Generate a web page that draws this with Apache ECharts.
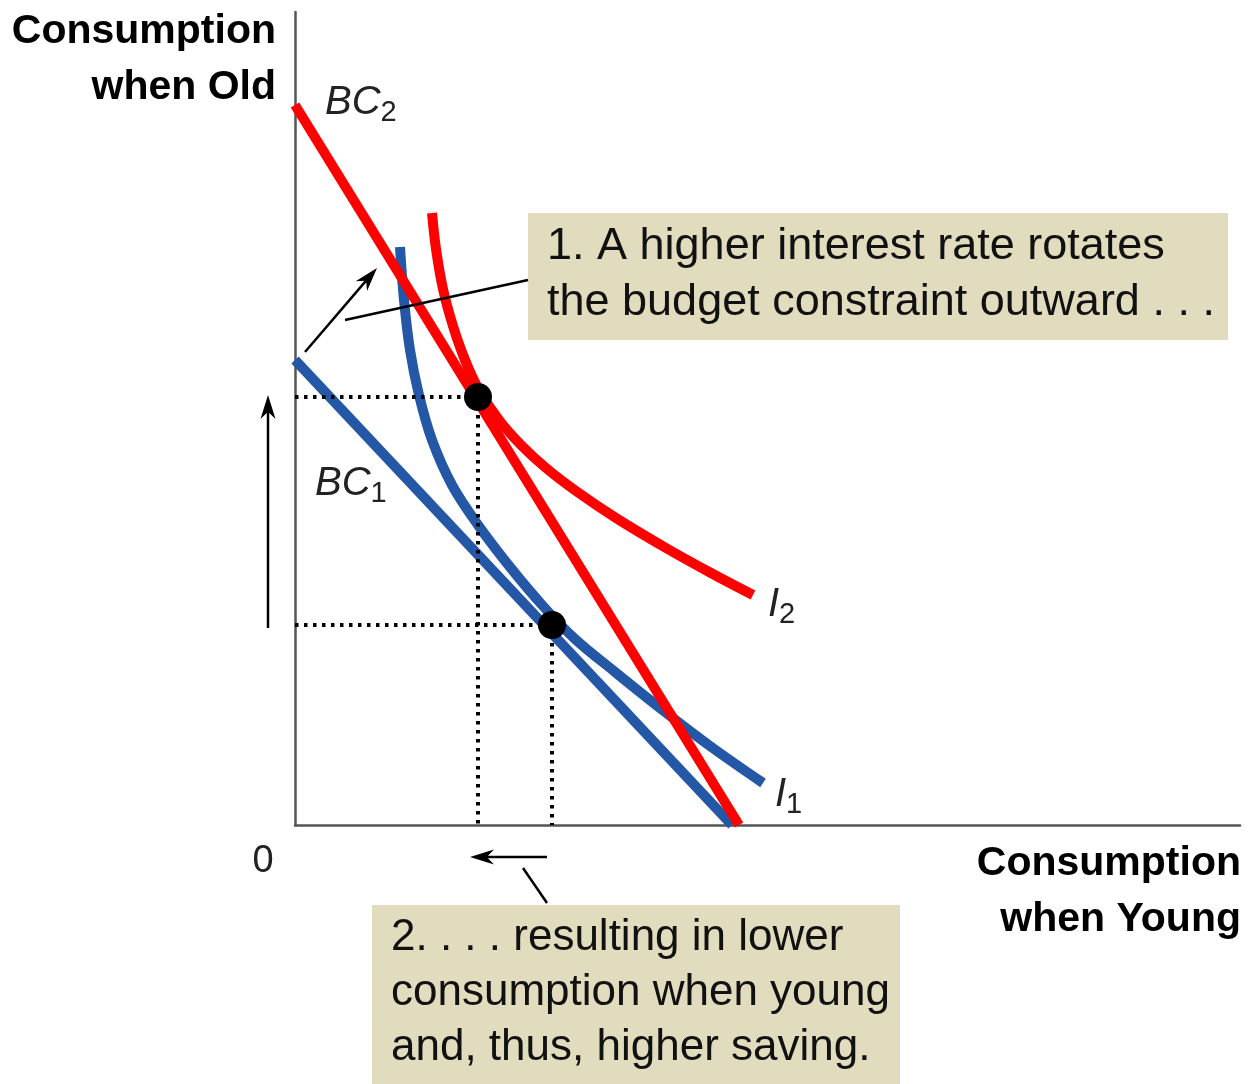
<!DOCTYPE html>
<html>
<head>
<meta charset="utf-8">
<title>Higher interest rate and saving</title>
<script src="https://cdn.jsdelivr.net/npm/echarts@6/dist/echarts.min.js"></script>
<style>
  html, body { margin: 0; padding: 0; background: #fff; }
  #main { width: 1249px; height: 1084px; }
</style>
</head>
<body>
<div id="main"></div>
<script>
// axis units: consumption when young (x) / when old (y), origin at the corner
var xMax = 94.5;
var yMax = 81.3;

var bc1 = [[0, 46.5], [43.7, 0]];
var bc2 = [[0, 72.0], [44.4, 0]];
var i1 = [[10.5, 57.8], [10.9, 52.5], [11.5, 47.5], [12.4, 43.0], [13.7, 38.5], [15.7, 34.0],
          [18.3, 30.0], [21.5, 25.8], [24.8, 21.9], [28.0, 18.6], [32.0, 15.3], [36.5, 11.7],
          [41.5, 7.9], [46.8, 4.2]];
var i2 = [[13.7, 61.2], [14.1, 57.6], [14.8, 53.6], [15.8, 49.9], [17.0, 46.5], [18.4, 43.5],
          [20.4, 40.5], [22.6, 38.0], [25.1, 35.7], [28.1, 33.4], [32.1, 30.7], [37.1, 27.7],
          [41.6, 25.2], [45.8, 23.0]];
var optimum = [[18.3, 42.8], [25.7, 20.0]];  // after, before the rate rise

var curveLabels = [
  { text: '{i|BC}{s|2}', at: [3.0, 72.2] },
  { text: '{i|BC}{s|1}', at: [2.0, 34.1] },
  { text: '{i|I}{s|2}', at: [47.3, 22.0] },
  { text: '{i|I}{s|1}', at: [48.0, 3.0] }
];

var arrows = [
  { from: [-2.7, 19.7], to: [-2.7, 43.0], head: true },
  { from: [1.0, 47.3], to: [8.2, 55.7], head: true },
  { from: [5.0, 50.5], to: [23.3, 54.5], head: false },
  { from: [25.2, -3.2], to: [17.5, -3.2], head: true },
  { from: [22.8, -4.3], to: [25.2, -7.8], head: false }
];

var note1 = ['1. A higher interest rate rotates', 'the budget constraint outward . . .'];
var note2 = ['2. . . . resulting in lower', 'consumption when young', 'and, thus, higher saving.'];

var RED = '#ff0000';
var BLUE = '#2457a6';
var BOX = '#e2dcbf';
var FONT = '"Liberation Sans", Arial, sans-serif';

var chartDom = document.getElementById('main');
var myChart = echarts.init(chartDom);

function curve(name, data, color, smooth) {
  return {
    name: name,
    type: 'line',
    data: data,
    showSymbol: false,
    smooth: smooth ? 0.35 : false,
    clip: false,
    z: 2,
    lineStyle: { color: color, width: 10, cap: 'butt' },
    silent: true
  };
}

var guides = [];
optimum.forEach(function (p) {
  guides.push([[0, p[1]], [p[0], p[1]]]);
  guides.push([[p[0], p[1]], [p[0], 0]]);
});

var series = [
  curve('BC1', bc1, BLUE, false),
  curve('I1', i1, BLUE, true),
  curve('BC2', bc2, RED, false),
  curve('I2', i2, RED, true)
];
guides.forEach(function (g, k) {
  series.push({
    name: 'guide' + k,
    type: 'line',
    data: g,
    showSymbol: false,
    silent: true,
    z: 3,
    lineStyle: { color: '#000', width: 4, type: [3.5, 5.5], cap: 'butt' }
  });
});
series.push({
  name: 'optimum',
  type: 'scatter',
  data: optimum,
  symbolSize: 28,
  z: 5,
  itemStyle: { color: '#000', opacity: 1 },
  silent: true
});

var option = {
  animation: false,
  backgroundColor: '#fff',
  grid: { left: 295, top: 12, right: 9, bottom: 259 },
  xAxis: {
    type: 'value', min: 0, max: xMax,
    axisLine: { show: true, onZero: false, lineStyle: { color: '#555', width: 2.5 } },
    axisTick: { show: false }, axisLabel: { show: false }, splitLine: { show: false }
  },
  yAxis: {
    type: 'value', min: 0, max: yMax,
    axisLine: { show: true, onZero: false, lineStyle: { color: '#555', width: 2.5 } },
    axisTick: { show: false }, axisLabel: { show: false }, splitLine: { show: false }
  },
  series: series
};
option && myChart.setOption(option);

// annotations placed through the axes
function px(p) { return myChart.convertToPixel({ gridIndex: 0 }, p); }

var graphics = [];

arrows.forEach(function (a) {
  var s = px(a.from), t = px(a.to);
  var dx = t[0] - s[0], dy = t[1] - s[1];
  var len = Math.sqrt(dx * dx + dy * dy);
  var ux = dx / len, uy = dy / len, nx = -uy, ny = ux;
  var L = 24, W = 15;
  var end = a.head ? [t[0] - ux * L * 0.6, t[1] - uy * L * 0.6] : t;
  graphics.push({
    type: 'line', z: 100,
    shape: { x1: s[0], y1: s[1], x2: end[0], y2: end[1] },
    style: { stroke: '#000', lineWidth: 2.5 }
  });
  if (a.head) {
    graphics.push({
      type: 'polygon', z: 100,
      shape: { points: [
        t,
        [t[0] - ux * L + nx * W / 2, t[1] - uy * L + ny * W / 2],
        [t[0] - ux * L * 0.7, t[1] - uy * L * 0.7],
        [t[0] - ux * L - nx * W / 2, t[1] - uy * L - ny * W / 2]
      ] },
      style: { fill: '#000' }
    });
  }
});

curveLabels.forEach(function (c) {
  var p = px(c.at);
  graphics.push({
    type: 'text', z: 100,
    style: {
      text: c.text, x: p[0], y: p[1],
      align: 'left', textAlign: 'left', verticalAlign: 'middle', textVerticalAlign: 'middle',
      fill: '#222',
      rich: {
        i: { fontFamily: FONT, fontStyle: 'italic', fontSize: 40, lineHeight: 48, verticalAlign: 'middle', fill: '#222' },
        s: { fontFamily: FONT, fontSize: 29, lineHeight: 28, verticalAlign: 'bottom', fill: '#222' }
      }
    }
  });
});

// origin label
var o = px([0, 0]);
graphics.push({
  type: 'text', z: 100,
  style: { text: '0', x: o[0] - 32, y: o[1] + 37, align: 'center', textAlign: 'center',
    verticalAlign: 'middle', textVerticalAlign: 'middle', fontFamily: FONT, fontSize: 38, fill: '#222' }
});

// axis titles
graphics.push({
  type: 'text', z: 100,
  style: { text: 'Consumption\nwhen Old', x: 276, y: 4, align: 'right', textAlign: 'right',
    verticalAlign: 'top', textVerticalAlign: 'top', lineHeight: 56,
    fontFamily: FONT, fontWeight: 'bold', fontSize: 41, fill: '#000' }
});
graphics.push({
  type: 'text', z: 100,
  style: { text: 'Consumption\nwhen Young', x: 1241, y: 836, align: 'right', textAlign: 'right',
    verticalAlign: 'top', textVerticalAlign: 'top', lineHeight: 56,
    fontFamily: FONT, fontWeight: 'bold', fontSize: 41, fill: '#000' }
});

// note boxes
graphics.push({ type: 'rect', z: 90, shape: { x: 528, y: 213, width: 700, height: 127 }, style: { fill: BOX } });
graphics.push({
  type: 'text', z: 100,
  style: { text: note1.join('\n'), x: 547, y: 219, lineHeight: 56, align: 'left', textAlign: 'left',
    verticalAlign: 'top', textVerticalAlign: 'top', fontFamily: FONT, fontSize: 45, fill: '#111' }
});
graphics.push({ type: 'rect', z: 90, shape: { x: 372, y: 905, width: 528, height: 179 }, style: { fill: BOX } });
graphics.push({
  type: 'text', z: 100,
  style: { text: note2.join('\n'), x: 391, y: 910, lineHeight: 55, align: 'left', textAlign: 'left',
    verticalAlign: 'top', textVerticalAlign: 'top', fontFamily: FONT, fontSize: 44, fill: '#111' }
});

myChart.setOption({ graphic: graphics });
</script>
</body>
</html>
